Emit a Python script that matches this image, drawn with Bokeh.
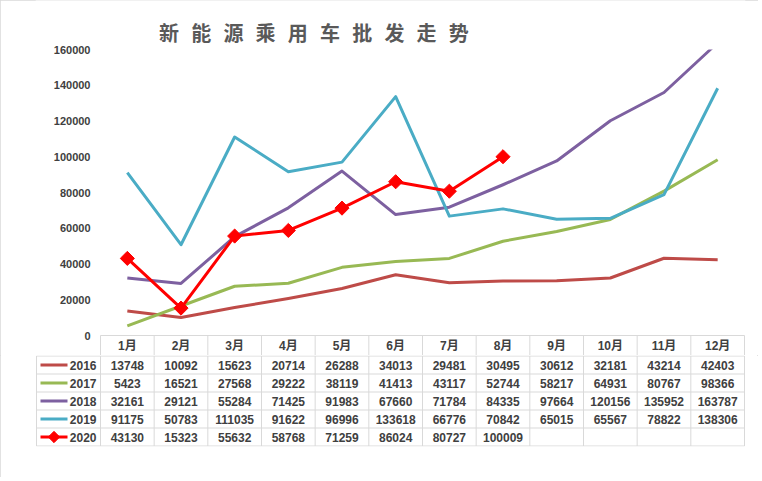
import math
from bokeh.plotting import figure
from bokeh.layouts import column
from bokeh.models import Range1d, NumeralTickFormatter, FixedTicker, LinearAxis
from bokeh.core.properties import value
from bokeh.embed import file_html
from bokeh.resources import INLINE

# ---------------- data ----------------
title_text = "新能源乘用车批发走势"
months = ["1月", "2月", "3月", "4月", "5月", "6月", "7月", "8月", "9月", "10月", "11月", "12月"]
years = ["2016", "2017", "2018", "2019", "2020"]
s2016 = [13748, 10092, 15623, 20714, 26288, 34013, 29481, 30495, 30612, 32181, 43214, 42403]
s2017 = [5423, 16521, 27568, 29222, 38119, 41413, 43117, 52744, 58217, 64931, 80767, 98366]
s2018 = [32161, 29121, 55284, 71425, 91983, 67660, 71784, 84335, 97664, 120156, 135952, 163787]
s2019 = [91175, 50783, 111035, 91622, 96996, 133618, 66776, 70842, 65015, 65567, 78822, 138306]
s2020 = [43130, 15323, 55632, 58768, 71259, 86024, 80727, 100009]
y_ticks = [0, 20000, 40000, 60000, 80000, 100000, 120000, 140000, 160000]

series = [s2016, s2017, s2018, s2019, s2020]
colors = ["#BE4B48", "#98B954", "#7D60A0", "#4AACC5", "#FF0000"]

# ---------------- layout constants (px) ----------------
W = 758
FRAME_L = 35          # frame left (page px)
FRAME_R = 745         # frame right (page px)
MONTH_X0 = 100        # left edge of the month columns
N = len(months)
COL_W = (744 - MONTH_X0) / N
FIRST_W = MONTH_X0 - 36
PLOT_TOP = 49         # page y of the top value
PLOT_H = 286          # px between 0 and the top value
HDR = 20
ROW = 18
TEXT = "#404040"
GRIDC = "#D9D9D9"
LAT = "Liberation Sans"
MIX = "'Liberation Sans', 'Noto Sans CJK SC'"

YMAX = y_ticks[-1]
UNIT = YMAX / PLOT_H  # value per px

def px_to_x(px_ref):
    return (px_ref - MONTH_X0) / COL_W

def py_to_y(py_ref):
    return YMAX - (py_ref - PLOT_TOP) * UNIT

def base(height, yr, top, bottom):
    f = figure(width=W, height=height, x_range=Range1d(px_to_x(FRAME_L), px_to_x(FRAME_R)),
               y_range=yr, output_backend="svg", toolbar_location=None,
               x_axis_location=None, y_axis_location=None,
               min_border_left=FRAME_L, min_border_right=W - FRAME_R,
               min_border_top=top, min_border_bottom=bottom)
    f.outline_line_color = None
    f.xgrid.visible = False
    f.ygrid.visible = False
    return f

xc = [i + 0.5 for i in range(N)]

# ---------------- chart (title + plot + month header) ----------------
CH_H = PLOT_TOP + PLOT_H + HDR
p = base(CH_H, Range1d(py_to_y(CH_H), py_to_y(0)), 0, 0)

for s, c in zip(series, colors):
    p.line(xc[:len(s)], s, line_width=3, color=c, line_join="round")
p.scatter(xc[:len(s2020)], s2020, marker="square", angle=math.pi / 4, size=10,
          fill_color=colors[4], line_color=colors[4])
# plot area ends at the top value: hide what lies above it
p.quad(left=[px_to_x(FRAME_L)], right=[px_to_x(FRAME_R)], bottom=[YMAX], top=[py_to_y(0)],
       fill_color="white", line_color=None)

p.text(x=[px_to_x(168.5 + 32.2 * k) for k in range(len(title_text))],
       y=[py_to_y(31.5)] * len(title_text), text=list(title_text),
       text_align="center", text_baseline="middle", text_font=value("Noto Sans CJK SC"),
       text_font_size="20px", text_font_style="bold", text_color="#595959")

ya = LinearAxis(fixed_location=0, ticker=FixedTicker(ticks=y_ticks),
                formatter=NumeralTickFormatter(format="0"))
ya.axis_line_color = None
ya.major_tick_line_color = None
ya.minor_tick_line_color = None
ya.major_tick_out = 0
ya.major_tick_in = 0
ya.minor_tick_out = 0
ya.minor_tick_in = 0
ya.major_label_standoff = 10
ya.major_label_text_font = LAT
ya.major_label_text_font_size = "11px"
ya.major_label_text_font_style = "bold"
ya.major_label_text_color = TEXT
p.add_layout(ya, "left")

# month header row of the data table
p.segment(x0=[0], x1=[N], y0=[0], y1=[0], line_color=GRIDC, line_width=1)
p.segment(x0=list(range(N + 1)), x1=list(range(N + 1)), y0=[0] * (N + 1),
          y1=[-HDR * UNIT] * (N + 1), line_color=GRIDC, line_width=1)
p.text(x=xc, y=[-HDR / 2 * UNIT] * N, text=months, text_align="center", text_baseline="middle",
       text_font=value(MIX), text_font_size="12px", text_font_style="bold", text_color=TEXT)

# ---------------- data table ----------------
TAB_H = ROW * len(years)
Q_H = 477 - CH_H
q = base(Q_H, Range1d(TAB_H + 0.5, -0.5), 0, Q_H - TAB_H - 1)

x_first = -FIRST_W / COL_W
hy = [ROW * k for k in range(len(years) + 1)]
q.segment(x0=[x_first] * len(hy), x1=[N] * len(hy), y0=hy, y1=hy, line_color=GRIDC, line_width=1)
vx = [x_first] + list(range(N + 1))
q.segment(x0=vx, x1=vx, y0=[0] * len(vx), y1=[TAB_H] * len(vx), line_color=GRIDC, line_width=1)

tx, ty, tt = [], [], []
for r, s in enumerate(series):
    for i, v in enumerate(s):
        tx.append(xc[i]); ty.append(ROW * r + ROW / 2); tt.append(str(v))
q.text(x=tx, y=ty, text=tt, text_align="center", text_baseline="middle",
       text_font=value(LAT), text_font_size="12px", text_font_style="bold", text_color=TEXT)

rows_y = [ROW * r + ROW / 2 for r in range(len(years))]
q.segment(x0=[px_to_x(40)] * len(years), x1=[px_to_x(67)] * len(years), y0=rows_y, y1=rows_y,
          line_color=colors, line_width=3)
q.scatter([px_to_x(53.5)], [rows_y[4]], marker="square", angle=math.pi / 4, size=8,
          fill_color=colors[4], line_color=colors[4])
q.text(x=[px_to_x(96)] * len(years), y=rows_y, text=years, text_align="right", text_baseline="middle",
       text_font=value(LAT), text_font_size="12px", text_font_style="bold", text_color=TEXT)

layout = column(p, q, spacing=0,
                styles={"outline": "1px solid #D9D9D9", "outline-offset": "-1px"})
open("out.html", "w").write(file_html(layout, INLINE))
